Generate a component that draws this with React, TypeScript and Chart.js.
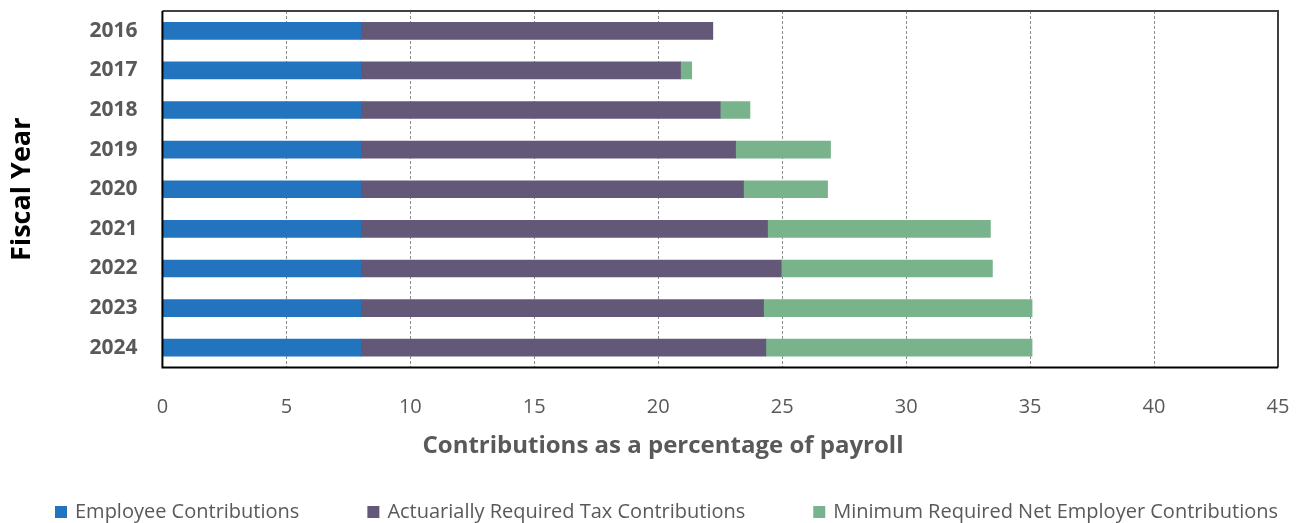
import React, { useEffect, useRef } from "react";
import { Chart, registerables } from "chart.js";

Chart.register(...registerables);

const years = ["2016", "2017", "2018", "2019", "2020", "2021", "2022", "2023", "2024"];
const employee = [8, 8, 8, 8, 8, 8, 8, 8, 8];
const actuarial = [14.2, 12.9, 14.5, 15.12, 15.44, 16.41, 16.96, 16.25, 16.34];
const minimumNet = [0, 0.45, 1.2, 3.83, 3.39, 8.99, 8.52, 10.83, 10.74];
const xTicks = [0, 5, 10, 15, 20, 25, 30, 35, 40, 45];
const xTitle = "Contributions as a percentage of payroll";

const FONT = "'Open Sans', 'Noto Sans', sans-serif";

const frame = {
  id: "frame",
  afterDatasetsDraw(chart: any) {
    const { ctx, chartArea: a } = chart;
    ctx.save();
    ctx.lineWidth = 2;
    ctx.strokeStyle = "#404040";
    ctx.beginPath();
    ctx.moveTo(a.left, a.top);
    ctx.lineTo(a.right, a.top);
    ctx.lineTo(a.right, a.bottom);
    ctx.stroke();
    ctx.strokeStyle = "#000000";
    ctx.beginPath();
    ctx.moveTo(a.left, a.top);
    ctx.lineTo(a.left, a.bottom);
    ctx.lineTo(a.right, a.bottom);
    ctx.stroke();
    ctx.restore();
  },
};

// x-axis title (offset left of the plot centre, as in the reference) and a legend spread across the bottom
const bottomTexts = {
  id: "bottomTexts",
  afterDraw(chart: any) {
    const { ctx } = chart;
    ctx.save();
    ctx.font = `bold 24px ${FONT}`;
    ctx.fillStyle = "#595959";
    ctx.textAlign = "center";
    ctx.textBaseline = "middle";
    ctx.fillText(xTitle, 663, 446);

    const startX = 55;
    const cy = 512;
    const box = 12;
    const gapText = 8;
    const gapItem = 68;
    ctx.font = `20px ${FONT}`;
    ctx.textAlign = "left";
    let x = startX;
    chart.data.datasets.forEach((ds: any) => {
      ctx.fillStyle = ds.backgroundColor;
      ctx.fillRect(x, cy - box / 2, box, box);
      x += box + gapText;
      ctx.fillStyle = "#595959";
      ctx.fillText(ds.label, x, cy);
      x += ctx.measureText(ds.label).width + gapItem;
    });
    ctx.restore();
  },
};

const noEdgePadding = (scale: any) => {
  scale.paddingTop = 0;
  scale.paddingBottom = 0;
  scale.paddingLeft = 0;
  scale.paddingRight = 0;
};

export default function App() {
  const ref = useRef<HTMLCanvasElement>(null);
  useEffect(() => {
    document.body.style.margin = "0";
    const chart = new Chart(ref.current!, {
      type: "bar",
      data: {
        labels: years,
        datasets: [
          { label: "Employee Contributions", data: employee, backgroundColor: "#2174bd", borderWidth: 0, barThickness: 17 },
          { label: "Actuarially Required Tax Contributions", data: actuarial, backgroundColor: "#645878", borderWidth: 0, barThickness: 17 },
          { label: "Minimum Required Net Employer Contributions", data: minimumNet, backgroundColor: "#79b38c", borderWidth: 0, barThickness: 17 },
        ],
      },
      options: {
        indexAxis: "y",
        animation: false,
        responsive: false,
        maintainAspectRatio: false,
        layout: { padding: { left: 6, right: 24, top: 11, bottom: 76.5 } },
        scales: {
          x: {
            stacked: true,
            min: 0,
            max: 45,
            afterBuildTicks: (axis: any) => {
              axis.ticks = xTicks.map((v) => ({ value: v }));
            },
            afterFit: noEdgePadding,
            grid: {
              color: (c: any) => (c.tick && (c.tick.value === 0 || c.tick.value === 45) ? "rgba(0,0,0,0)" : "#8c8c8c"),
              lineWidth: 1,
              drawTicks: false,
            },
            border: { display: false, dash: [3, 2] },
            ticks: { color: "#595959", font: { family: FONT, size: 20 }, padding: 27.5, maxRotation: 0 },
            title: { display: false },
          },
          y: {
            stacked: true,
            afterFit: noEdgePadding,
            grid: { display: false, drawTicks: false },
            border: { display: false },
            ticks: { color: "#595959", font: { family: FONT, size: 21, weight: "bold" }, padding: 25, autoSkip: false },
            title: {
              display: true,
              text: "Fiscal Year",
              color: "#000000",
              font: { family: FONT, size: 27, weight: "bold" },
              padding: { top: 0, bottom: 26 },
            },
          },
        },
        plugins: {
          legend: { display: false },
          tooltip: { enabled: false },
        },
      },
      plugins: [frame, bottomTexts],
    });
    return () => chart.destroy();
  }, []);
  return <canvas ref={ref} width={1302} height={523} style={{ display: "block" }} />;
}
